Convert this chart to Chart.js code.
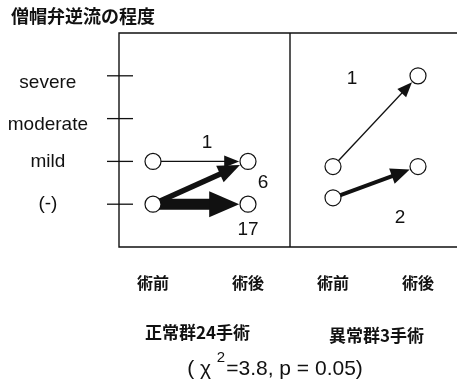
<!DOCTYPE html>
<html>
<head>
<meta charset="utf-8">
<script src="https://cdn.jsdelivr.net/npm/chart.js@4.4.1/dist/chart.umd.min.js"></script>
<style>
  html, body { margin: 0; padding: 0; background: #fff; }
  #wrap { width: 457px; height: 384px; }
</style>
</head>
<body>
<div id="wrap"><canvas id="c" width="457" height="384"></canvas></div>
<script>
// ---- data ----
const title = '僧帽弁逆流の程度';
const levels = ['(-)', 'mild', 'moderate', 'severe'];
const phaseLabels = ['術前', '術後', '術前', '術後'];
const phasePos = [0.34, 1.29, 2.14, 2.99];
const dividerPos = 1.71;
const groupNames = ['正常群24手術', '異常群3手術'];
// normal group transitions (level before -> level after, number of operations)
const normalFrom = [1, 0, 0];
const normalTo = [1, 1, 0];
const normalCount = [1, 6, 17];
// abnormal group transitions
const abnormalFrom = [0.88, 0.15];
const abnormalTo = [3, 0.88];
const abnormalCount = [1, 2];
const statPre = '( χ ';
const statSup = '2';
const statPost = '=3.8, p = 0.05)';

// ---- styles ----
const ink = '#111';
const latin = '"Liberation Sans", Arial, sans-serif';
const cjk = '"Noto Sans CJK JP", sans-serif';
const arrowStyle = { 1: [1.3, 15, 6], 2: [4, 19, 8], 6: [5.5, 22, 9], 17: [11, 30, 13] };
const normalLabelOff = [[-41, -19], [15, 21], [0, 26]];
const abnormalLabelOff = [[-66, 3], [-18, 51]];
const yLabelShift = [0, 0, 6.5, 6.5];
const R = 8;

const groups = [
  { from: normalFrom, to: normalTo, count: normalCount, pre: phasePos[0], post: phasePos[1], off: normalLabelOff },
  { from: abnormalFrom, to: abnormalTo, count: abnormalCount, pre: phasePos[2], post: phasePos[3], off: abnormalLabelOff }
];

const points = [];
groups.forEach(g => {
  const seen = new Set();
  g.from.forEach(v => { const k = 'a' + v; if (!seen.has(k)) { seen.add(k); points.push({ x: g.pre, y: v }); } });
  g.to.forEach(v => { const k = 'b' + v; if (!seen.has(k)) { seen.add(k); points.push({ x: g.post, y: v }); } });
});

function drawArrow(ctx, x1, y1, x2, y2, st) {
  const [w, hl, hw] = st;
  const dx = x2 - x1, dy = y2 - y1, L = Math.hypot(dx, dy);
  const ux = dx / L, uy = dy / L;
  const tx = x2 - ux * (R + 0.8), ty = y2 - uy * (R + 0.8);
  const bx = tx - ux * hl, by = ty - uy * hl;
  ctx.lineWidth = w; ctx.lineCap = 'butt';
  ctx.beginPath(); ctx.moveTo(x1, y1); ctx.lineTo(bx + ux, by + uy); ctx.stroke();
  ctx.beginPath();
  ctx.moveTo(tx, ty);
  ctx.lineTo(bx - uy * hw, by + ux * hw);
  ctx.lineTo(bx + uy * hw, by - ux * hw);
  ctx.closePath(); ctx.fill();
}

const figurePlugin = {
  id: 'figure',
  beforeDatasetsDraw(chart) {
    const { ctx, chartArea: a, scales: { x, y } } = chart;
    ctx.save();
    ctx.strokeStyle = ink; ctx.fillStyle = ink;
    // frame
    ctx.lineWidth = 1.4;
    ctx.beginPath();
    ctx.moveTo(chart.width, a.top); ctx.lineTo(a.left, a.top); ctx.lineTo(a.left, a.bottom); ctx.lineTo(chart.width, a.bottom);
    const dx = x.getPixelForValue(dividerPos);
    ctx.moveTo(dx, a.top); ctx.lineTo(dx, a.bottom);
    ctx.stroke();
    // tick marks crossing the axis
    ctx.lineWidth = 1.3;
    levels.forEach((_, i) => {
      const py = y.getPixelForValue(i);
      ctx.beginPath(); ctx.moveTo(a.left - 12, py); ctx.lineTo(a.left + 14, py); ctx.stroke();
    });
    // arrows and counts
    ctx.font = '19px ' + latin; ctx.textAlign = 'center'; ctx.textBaseline = 'middle';
    groups.forEach(g => {
      g.from.forEach((f, i) => {
        const x1 = x.getPixelForValue(g.pre), y1 = y.getPixelForValue(f);
        const x2 = x.getPixelForValue(g.post), y2 = y.getPixelForValue(g.to[i]);
        drawArrow(ctx, x1, y1, x2, y2, arrowStyle[g.count[i]]);
        ctx.fillText(String(g.count[i]), x2 + g.off[i][0], y2 + g.off[i][1]);
      });
    });
    ctx.restore();
  },
  afterDraw(chart) {
    const { ctx, scales: { x } } = chart;
    ctx.save();
    ctx.fillStyle = ink; ctx.textBaseline = 'middle';
    ctx.font = 'bold 18px ' + cjk; ctx.textAlign = 'left';
    ctx.fillText(title, 11, 16);
    ctx.textAlign = 'center';
    ctx.font = 'bold 17px ' + cjk;
    ctx.fillText(groupNames[0], (x.getPixelForValue(phasePos[0]) + x.getPixelForValue(phasePos[1])) / 2 - 3, 333);
    ctx.fillText(groupNames[1], (x.getPixelForValue(phasePos[2]) + x.getPixelForValue(phasePos[3])) / 2 + 1, 336);
    // statistic line with superscript
    ctx.font = '21px ' + latin;
    const w1 = ctx.measureText(statPre).width;
    const w3 = ctx.measureText(statPost).width;
    ctx.font = '15px ' + latin;
    const w2 = ctx.measureText(statSup).width + 1;
    const total = w1 + w2 + w3;
    let sx = 275 - total / 2;
    ctx.textAlign = 'left';
    ctx.font = '21px ' + latin;
    ctx.fillText(statPre, sx, 369);
    ctx.font = '15px ' + latin;
    ctx.fillText(statSup, sx + w1, 358);
    ctx.font = '21px ' + latin;
    ctx.fillText(statPost, sx + w1 + w2, 369);
    ctx.restore();
  }
};

new Chart(document.getElementById('c'), {
  type: 'scatter',
  data: {
    datasets: [{
      data: points,
      pointRadius: R,
      pointHoverRadius: R,
      pointBackgroundColor: '#fff',
      pointBorderColor: ink,
      pointBorderWidth: 1.2,
      showLine: false,
      clip: false
    }]
  },
  options: {
    responsive: false,
    animation: false,
    devicePixelRatio: 1,
    layout: { autoPadding: false, padding: { top: 33, bottom: 77, left: 0, right: 0 } },
    plugins: { legend: { display: false }, tooltip: { enabled: false }, title: { display: false } },
    scales: {
      x: {
        type: 'linear', min: 0, max: 3.38,
        afterBuildTicks: s => { s.ticks = phasePos.map(v => ({ value: v })); },
        afterFit: s => { s.height = 60; s.paddingLeft = 0; s.paddingRight = 0; },
        ticks: {
          autoSkip: false, maxRotation: 0, minRotation: 0, padding: 0,
          color: ink, font: { family: cjk, size: 16, weight: 'bold', lineHeight: 1.5 },
          callback: (v, i) => ['', phaseLabels[i]]
        },
        grid: { display: false, drawTicks: false },
        border: { display: false }
      },
      y: {
        type: 'linear', min: -1, max: 4,
        afterBuildTicks: s => { s.ticks = levels.map((_, i) => ({ value: i })); },
        afterFit: s => { s.width = 119; s.paddingTop = 0; s.paddingBottom = 0; },
        ticks: {
          crossAlign: 'center', padding: 31, labelOffset: 0,
          color: ink,
          font: c => ({ family: latin, size: 19, lineHeight: (yLabelShift[c.index] > 0 ? 2 * yLabelShift[c.index] : 19) + 'px' }),
          callback: v => (yLabelShift[v] > 0 ? ['', levels[v]] : levels[v])
        },
        grid: { display: false, drawTicks: false },
        border: { display: false }
      }
    }
  },
  plugins: [figurePlugin]
});
</script>
</body>
</html>
